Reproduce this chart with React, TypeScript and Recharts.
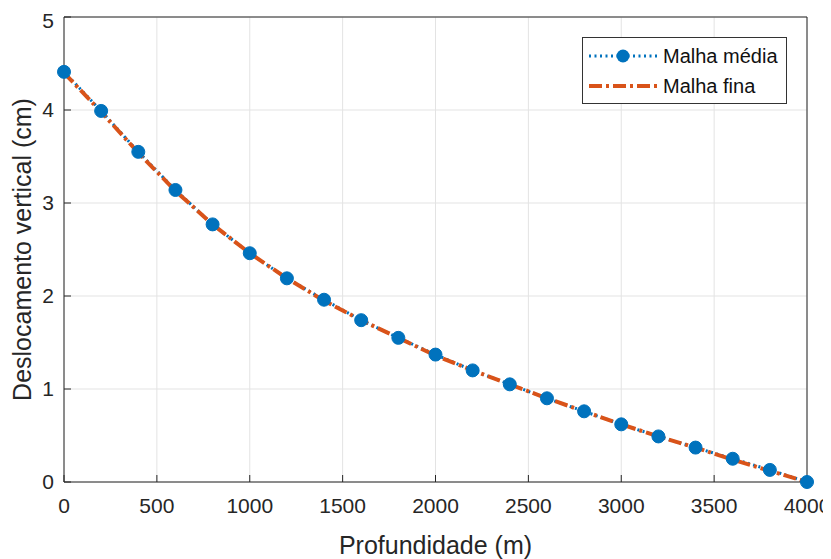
import { ComposedChart, Line, XAxis, YAxis, CartesianGrid } from "recharts";

const profundidade = [0, 200, 400, 600, 800, 1000, 1200, 1400, 1600, 1800, 2000, 2200, 2400, 2600, 2800, 3000, 3200, 3400, 3600, 3800, 4000];
const malhaMedia = [4.41, 3.99, 3.55, 3.14, 2.77, 2.46, 2.19, 1.96, 1.74, 1.55, 1.37, 1.2, 1.05, 0.9, 0.76, 0.62, 0.49, 0.37, 0.25, 0.13, 0.0];
const malhaFina = [4.4, 3.98, 3.54, 3.13, 2.77, 2.46, 2.19, 1.95, 1.74, 1.55, 1.36, 1.2, 1.05, 0.9, 0.76, 0.62, 0.49, 0.37, 0.24, 0.12, 0.0];
const xTicks = [0, 500, 1000, 1500, 2000, 2500, 3000, 3500, 4000];
const yTicks = [0, 1, 2, 3, 4, 5];

const data = profundidade.map((x, i) => ({ x, media: malhaMedia[i], fina: malhaFina[i] }));

const AZUL = "#0072BD";
const LARANJA = "#D95319";
const EIXO = "#262626";
const FONTE = "'Liberation Sans', Arial, sans-serif";

function Legenda() {
  return (
    <div
      style={{
        position: "absolute",
        left: 574,
        top: 29,
        border: "1px solid #333",
        background: "#fff",
        width: 203,
        height: 65,
        fontFamily: FONTE,
        fontSize: 20,
        color: "#111",
      }}
    >
      <div style={{ display: "flex", alignItems: "center", height: 32, marginTop: 2 }}>
        <svg width={80} height={20}>
          <line x1={6} y1={10} x2={74} y2={10} stroke={AZUL} strokeWidth={3} strokeDasharray="2 3.5" />
          <circle cx={40} cy={10} r={6.5} fill={AZUL} />
        </svg>
        <span>Malha média</span>
      </div>
      <div style={{ display: "flex", alignItems: "center", height: 28 }}>
        <svg width={80} height={20}>
          <line x1={6} y1={10} x2={74} y2={10} stroke={LARANJA} strokeWidth={4} strokeDasharray="13 4 3 4" />
        </svg>
        <span>Malha fina</span>
      </div>
    </div>
  );
}

export default function App() {
  const tickStyle = { fontSize: 21, fill: EIXO, fontFamily: FONTE };
  const labelStyle = { fontSize: 25, fill: EIXO, fontFamily: FONTE };
  return (
    <div style={{ position: "relative", width: 823, height: 551 }}>
      <ComposedChart
        width={823}
        height={551}
        data={data}
        margin={{ top: 8, right: 23, left: 0, bottom: 0 }}
        style={{ fontFamily: FONTE }}
      >
        <CartesianGrid stroke="#e3e3e3" strokeWidth={1} />
        <XAxis
          dataKey="x"
          type="number"
          domain={[0, 4000]}
          ticks={xTicks}
          height={77}
          stroke={EIXO}
          tickSize={-7}
          tickMargin={23}
          tick={tickStyle}
          label={{ value: "Profundidade (m)", position: "insideBottom", offset: 5, style: labelStyle }}
        />
        <XAxis xAxisId="topo" orientation="top" dataKey="x" type="number" domain={[0, 4000]} ticks={xTicks} height={1} stroke={EIXO} tickSize={-7} tick={false} />
        <YAxis
          type="number"
          domain={[0, 5]}
          ticks={yTicks}
          width={56}
          stroke={EIXO}
          tickSize={-7}
          tickMargin={17}
          tick={tickStyle}
          label={{ value: "Deslocamento vertical (cm)", angle: -90, position: "insideLeft", offset: 14, style: { ...labelStyle, textAnchor: "middle" } }}
        />
        <YAxis yAxisId="dir" orientation="right" type="number" domain={[0, 5]} ticks={yTicks} width={1} stroke={EIXO} tickSize={-7} tick={false} />
        <Line
          dataKey="media"
          stroke={AZUL}
          strokeWidth={3}
          strokeDasharray="2 3.5"
          dot={{ r: 6.5, fill: AZUL, stroke: AZUL, strokeWidth: 1, strokeDasharray: "" }}
          activeDot={false}
          isAnimationActive={false}
          type="linear"
        />
        <Line
          dataKey="fina"
          stroke={LARANJA}
          strokeWidth={4}
          strokeDasharray="13 4 3 4"
          dot={false}
          activeDot={false}
          isAnimationActive={false}
          type="linear"
        />
      </ComposedChart>
      <Legenda />
    </div>
  );
}
